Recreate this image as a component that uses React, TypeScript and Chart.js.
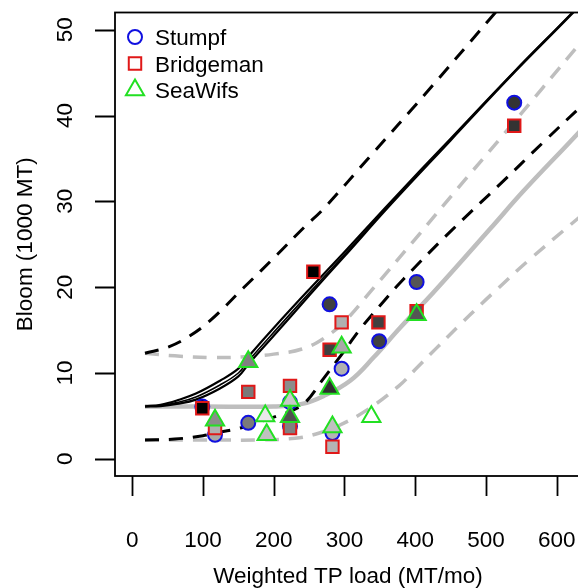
import React, { useEffect, useRef } from "react";
import { Chart, registerables } from "chart.js";

Chart.register(...registerables);

// ---- axis ticks / labels ----
const xTicks = [0, 100, 200, 300, 400, 500, 600];
const yTicks = [0, 10, 20, 30, 40, 50];
const xTitle = "Weighted TP load (MT/mo)";
const yTitle = "Bloom (1000 MT)";
const legendLabels = ["Stumpf", "Bridgeman", "SeaWifs"];

// ---- observations ----
const stumpfX = [99, 117, 164, 223, 223, 279, 296, 349, 402, 540, 283];
const stumpfY = [6.1, 2.8, 4.2, 6.6, 3.8, 18.0, 10.5, 13.7, 20.6, 41.5, 3.0];
const stumpfFill = ["#000000", "#a8a8a8", "#7a7a7a", "#b4b4b4", "#808080", "#404040", "#b0b0b0", "#404040", "#555555", "#333333", "#b4b4b4"];

const bridgemanX = [99, 117, 164, 223, 223, 256, 279, 296, 348, 402, 540, 283];
const bridgemanY = [5.9, 3.6, 7.8, 8.5, 3.6, 21.8, 12.7, 15.9, 15.9, 17.2, 38.8, 1.4];
const bridgemanFill = ["#000000", "#b0b0b0", "#7a7a7a", "#8c8c8c", "#808080", "#000000", "#404040", "#b0b0b0", "#404040", "#555555", "#333333", "#b4b4b4"];

const seawifsX = [117, 164, 188, 190, 223, 223, 279, 296, 283, 338, 402];
const seawifsY = [4.5, 11.3, 5.0, 2.8, 6.8, 4.9, 8.2, 13.0, 3.7, 4.9, 16.8];
const seawifsFill = ["#8c8c8c", "#808080", "#e8e8e8", "#c0c0c0", "#c8c8c8", "#505050", "#303030", "#a8a8a8", "#c0c0c0", "#ffffff", "#555555"];

// ---- fitted curves ----
const fitX = [18, 40, 63, 90, 124, 150, 164, 205, 252, 300, 365, 450, 540, 620, 660];
const fitY1 = [6.1, 6.3, 6.8, 7.6, 9.1, 10.5, 11.9, 15.7, 19.9, 24.1, 29.9, 37.3, 45.1, 51.8, 55.3];
const fitY2 = [6.1, 6.2, 6.55, 7.2, 8.6, 10.0, 11.4, 15.2, 19.5, 23.8, 29.7, 37.2, 45.1, 51.8, 55.3];
const fitY3 = [6.1, 6.15, 6.4, 6.9, 8.2, 9.6, 11.0, 14.8, 19.2, 23.6, 29.6, 37.1, 45.0, 51.7, 55.2];

const upperBlackX = [18, 50, 77, 110, 157, 205, 242, 270, 340, 412, 504, 560];
const upperBlackY = [12.3, 13.0, 14.1, 16.1, 19.9, 23.8, 26.9, 29.1, 35.6, 42.3, 51.1, 56.5];

const lowerBlackX = [18, 60, 100, 124, 153, 180, 205, 228, 245, 269, 300, 322, 355, 383, 450, 520, 580, 640];
const lowerBlackY = [2.2, 2.3, 2.7, 3.1, 3.6, 4.3, 5.0, 5.7, 6.6, 9.2, 12.6, 15.1, 18.3, 20.9, 26.5, 32.0, 36.8, 41.5];

const grayFitX = [18, 100, 200, 240, 270, 308, 341, 379, 426, 506, 553, 631, 660];
const grayFitY = [6.1, 6.1, 6.1, 6.4, 7.3, 9.1, 11.8, 15.3, 19.4, 26.8, 31.2, 38.0, 40.7];

const upperGrayX = [18, 60, 110, 160, 200, 240, 270, 300, 340, 400, 460, 520, 580, 640, 670];
const upperGrayY = [12.3, 12.0, 11.8, 11.9, 12.2, 12.8, 14.0, 16.0, 19.8, 25.6, 31.5, 37.3, 43.2, 49.1, 52.0];

const lowerGrayX = [18, 100, 180, 230, 260, 290, 332, 377, 400, 430, 463, 493, 515, 560, 630, 670];
const lowerGrayY = [2.2, 2.2, 2.2, 2.4, 2.9, 3.8, 5.7, 8.5, 10.4, 12.9, 15.6, 18.0, 19.7, 23.1, 28.0, 30.8];

const FONT = '22.5px "Liberation Sans", Arial, sans-serif';
const BLUE = "#1010e0";
const RED = "#e01818";
const GREEN = "#22e022";
const GRAY = "#bebebe";

const pts = (xs: number[], ys: number[]) => xs.map((x, i) => ({ x, y: ys[i] }));

function lineDs(xs: number[], ys: number[], color: string, width: number, dash: number[], order: number) {
  return {
    data: pts(xs, ys),
    showLine: true,
    borderColor: color,
    borderWidth: width,
    borderDash: dash,
    pointRadius: 0,
    fill: false,
    tension: 0.4,
    order,
  };
}

function drawMarker(ctx: CanvasRenderingContext2D, kind: string, x: number, y: number, stroke: string) {
  ctx.save();
  ctx.strokeStyle = stroke;
  ctx.fillStyle = "#ffffff";
  ctx.lineWidth = 2;
  ctx.beginPath();
  if (kind === "circle") {
    ctx.arc(x, y, 7, 0, Math.PI * 2);
  } else if (kind === "rect") {
    const s = 8.8 * Math.SQRT1_2;
    ctx.rect(x - s, y - s, 2 * s, 2 * s);
  } else {
    const r = 10.5;
    for (let k = 0; k < 3; k++) {
      const a = (k * 2 * Math.PI) / 3;
      const px = x + Math.sin(a) * r;
      const py = y - Math.cos(a) * r;
      if (k === 0) ctx.moveTo(px, py);
      else ctx.lineTo(px, py);
    }
    ctx.closePath();
  }
  ctx.fill();
  ctx.stroke();
  ctx.restore();
}

const framePlugin = {
  id: "frame",
  afterDraw(chart: any) {
    const ctx: CanvasRenderingContext2D = chart.ctx;
    const { left, top, right, bottom } = chart.chartArea;
    const xs = chart.scales.x;
    const ys = chart.scales.y;
    ctx.save();
    ctx.strokeStyle = "#000";
    ctx.lineWidth = 1.8;
    ctx.strokeRect(left, top, right - left, bottom - top);

    ctx.fillStyle = "#000";
    ctx.font = FONT;
    ctx.beginPath();
    xTicks.forEach((v) => {
      const px = Math.round(xs.getPixelForValue(v)) + 0.5;
      ctx.moveTo(px, bottom);
      ctx.lineTo(px, bottom + 20);
    });
    yTicks.forEach((v) => {
      const py = Math.round(ys.getPixelForValue(v)) + 0.5;
      ctx.moveTo(left, py);
      ctx.lineTo(left - 20, py);
    });
    ctx.stroke();

    ctx.textAlign = "center";
    ctx.textBaseline = "alphabetic";
    xTicks.forEach((v) => {
      ctx.fillText(String(v), xs.getPixelForValue(v), 547);
    });
    yTicks.forEach((v) => {
      ctx.save();
      ctx.translate(72, ys.getPixelForValue(v));
      ctx.rotate(-Math.PI / 2);
      ctx.fillText(String(v), 0, 0);
      ctx.restore();
    });
    ctx.fillText(xTitle, (left + right) / 2, 583);
    ctx.save();
    ctx.translate(32, (top + bottom) / 2);
    ctx.rotate(-Math.PI / 2);
    ctx.fillText(yTitle, 0, 0);
    ctx.restore();

    // legend
    const kinds = ["circle", "rect", "triangle"];
    const colors = [BLUE, RED, GREEN];
    const rowsY = [37, 63.5, 90];
    ctx.textAlign = "left";
    legendLabels.forEach((lab, i) => {
      drawMarker(ctx, kinds[i], 135, rowsY[i], colors[i]);
      ctx.fillStyle = "#000";
      ctx.font = FONT;
      ctx.fillText(lab, 155, rowsY[i] + 8);
    });
    ctx.restore();
  },
};

export default function App() {
  const ref = useRef<HTMLCanvasElement | null>(null);
  useEffect(() => {
    if (!ref.current) return;
    const chart = new Chart(ref.current, {
      type: "scatter",
      data: {
        datasets: [
          {
            label: legendLabels[2],
            data: pts(seawifsX, seawifsY),
            pointStyle: "triangle",
            pointRadius: 10.5,
            pointBackgroundColor: seawifsFill,
            pointBorderColor: GREEN,
            pointBorderWidth: 2,
            order: 0,
          },
          {
            label: legendLabels[1],
            data: pts(bridgemanX, bridgemanY),
            pointStyle: "rect",
            pointRadius: 8.8,
            pointBackgroundColor: bridgemanFill,
            pointBorderColor: RED,
            pointBorderWidth: 2,
            order: 1,
          },
          {
            label: legendLabels[0],
            data: pts(stumpfX, stumpfY),
            pointStyle: "circle",
            pointRadius: 7,
            pointBackgroundColor: stumpfFill,
            pointBorderColor: BLUE,
            pointBorderWidth: 2,
            order: 2,
          },
          lineDs(fitX, fitY1, "#000000", 2.2, [], 3),
          lineDs(fitX, fitY2, "#000000", 1.6, [], 4),
          lineDs(fitX, fitY3, "#000000", 2.2, [], 5),
          lineDs(upperBlackX, upperBlackY, "#000000", 3, [14, 10], 6),
          lineDs(lowerBlackX, lowerBlackY, "#000000", 3, [14, 10], 7),
          lineDs(grayFitX, grayFitY, GRAY, 4.5, [], 8),
          lineDs(upperGrayX, upperGrayY, GRAY, 3.5, [14, 10], 9),
          lineDs(lowerGrayX, lowerGrayY, GRAY, 3.5, [14, 10], 10),
        ] as any,
      },
      options: {
        animation: false,
        responsive: false,
        events: [],
        layout: { padding: { left: 115, top: 9, right: 19, bottom: 112 } },
        scales: {
          x: { type: "linear", min: -24.4, max: 634.4, display: false },
          y: { type: "linear", min: -2, max: 52, display: false },
        },
        plugins: { legend: { display: false }, tooltip: { enabled: false } },
      },
      plugins: [framePlugin],
    });
    return () => chart.destroy();
  }, []);

  return (
    <div style={{ position: "absolute", left: 0, top: 0, width: 578, height: 588, overflow: "hidden", background: "#fff" }}>
      <canvas ref={ref} width={600} height={588} style={{ width: 600, height: 588, display: "block" }} />
    </div>
  );
}
